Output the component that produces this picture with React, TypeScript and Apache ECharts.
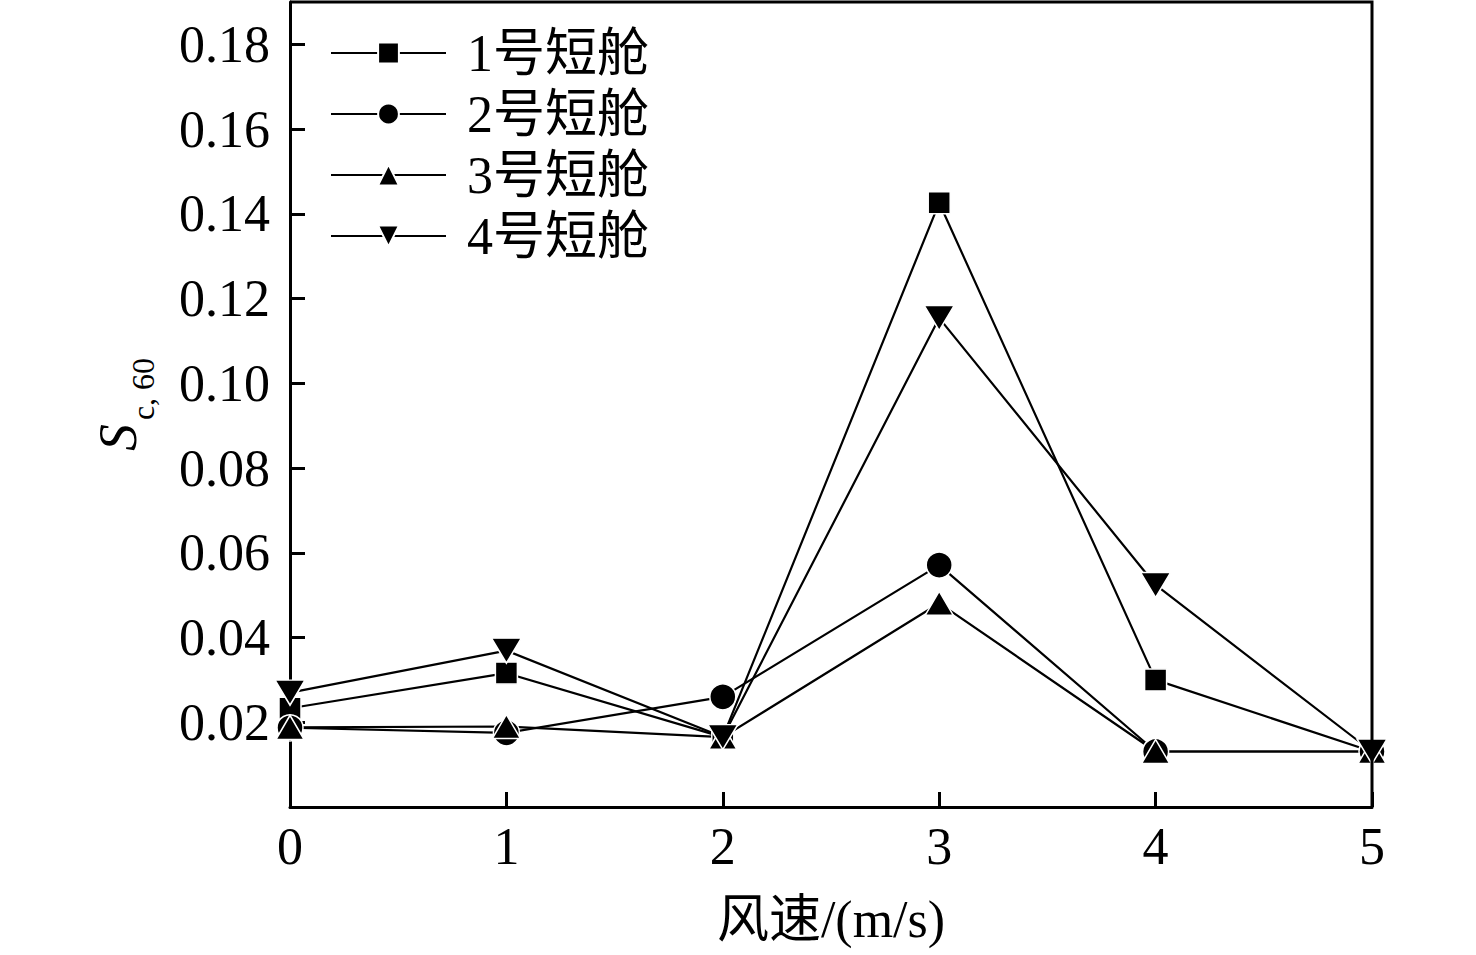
import React, { useEffect, useRef } from "react";
import * as echarts from "echarts";

const windSpeeds = [0, 1, 2, 3, 4, 5];
const seriesNames = ["1号短舱", "2号短舱", "3号短舱", "4号短舱"];
const nacelle1 = [0.0233, 0.0316, 0.0165, 0.1426, 0.0300, 0.0131];
const nacelle2 = [0.0187, 0.0175, 0.0260, 0.0571, 0.0131, 0.0131];
const nacelle3 = [0.0188, 0.0190, 0.0165, 0.0481, 0.0131, 0.0131];
const nacelle4 = [0.0270, 0.0369, 0.0165, 0.1154, 0.0524, 0.0131];

const FONT = '"Liberation Serif", "Times New Roman", "Noto Sans CJK SC", serif';

export default function App() {
  const ref = useRef<HTMLDivElement>(null);
  useEffect(() => {
    document.body.style.margin = "0";
    if (!ref.current) return;
    const chart = echarts.init(ref.current, undefined, { renderer: "svg" });
    const all = [nacelle1, nacelle2, nacelle3, nacelle4];
    const symbols = ["rect", "circle", "triangle", "path://M0,0L2,0L1,1.732Z"];
    const sizes: any[] = [22, 26, [28, 24], [30, 25]];
    chart.setOption({
      animation: false,
      backgroundColor: "#ffffff",
      textStyle: { fontFamily: FONT, color: "#000" },
      grid: { left: 290, right: 104, top: 2, bottom: 148 },
      legend: {
        left: 325,
        top: 22,
        orient: "vertical",
        itemWidth: 115,
        itemHeight: 26,
        itemGap: 9,
        textStyle: { fontFamily: FONT, fontSize: 52, color: "#000", padding: [0, 0, 0, 16] },
        data: seriesNames,
      },
      xAxis: {
        type: "value",
        min: 0,
        max: 5,
        interval: 1,
        name: "风速/(m/s)",
        nameLocation: "middle",
        nameGap: 86,
        nameTextStyle: { fontFamily: FONT, fontSize: 52, color: "#000" },
        axisLine: { lineStyle: { color: "#000", width: 3 } },
        axisTick: { inside: true, length: 15, lineStyle: { color: "#000", width: 3 } },
        axisLabel: { fontFamily: FONT, fontSize: 52, color: "#000", margin: 13 },
        splitLine: { show: false },
      },
      yAxis: {
        type: "value",
        min: 0,
        max: 0.19,
        interval: 0.02,
        name: "{s|S}{sub|c, 60}",
        nameLocation: "middle",
        nameRotate: 90,
        nameGap: 145,
        nameTextStyle: {
          rich: {
            s: { fontFamily: FONT, fontSize: 54, fontStyle: "italic", color: "#000" },
            sub: { fontFamily: FONT, fontSize: 32, color: "#000", verticalAlign: "bottom", padding: [0, 0, -14, 4] },
          },
        },
        axisLine: { show: true, lineStyle: { color: "#000", width: 3 } },
        axisTick: { show: true, inside: true, length: 15, lineStyle: { color: "#000", width: 3 } },
        axisLabel: {
          fontFamily: FONT,
          fontSize: 52,
          color: "#000",
          margin: 20,
          formatter: (v: number) => (v === 0 ? "" : v.toFixed(2)),
        },
        splitLine: { show: false },
      },
      graphic: [
        {
          type: "polyline",
          shape: { points: [[290, 2], [1372, 2], [1372, 807]] },
          style: { stroke: "#000", lineWidth: 3, fill: "none" },
          z: 10,
        },
      ],
      series: all.map((vals, i) => ({
        name: seriesNames[i],
        type: "line",
        data: windSpeeds.map((x, j) => [x, vals[j]]),
        symbol: symbols[i],
        symbolSize: sizes[i],
        showAllSymbol: true,
        clip: true,
        lineStyle: { color: "#000", width: 2.2 },
        itemStyle: { color: "#000", borderColor: "#fff", borderWidth: 1.5 },
      })),
    });
    return () => chart.dispose();
  }, []);
  return <div ref={ref} style={{ width: 1476, height: 955 }} />;
}
